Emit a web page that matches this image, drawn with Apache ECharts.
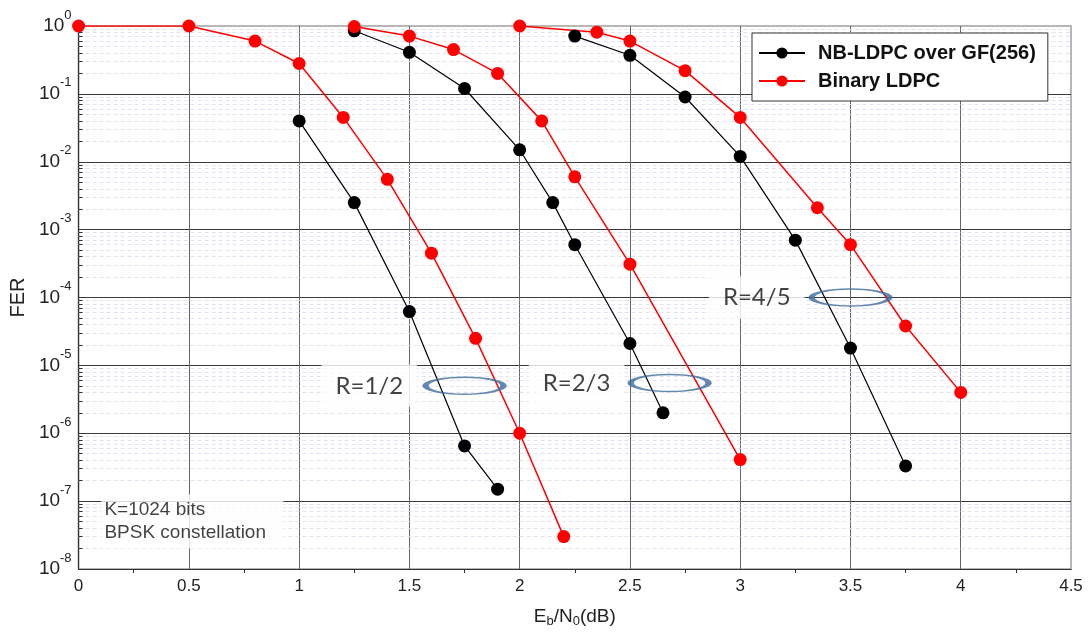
<!DOCTYPE html>
<html>
<head>
<meta charset="utf-8">
<script src="https://cdn.jsdelivr.net/npm/echarts@6/dist/echarts.min.js"></script>
<style>html,body{margin:0;padding:0;background:#fff;}#c{width:1089px;height:633px;}</style>
</head>
<body>
<div id="c"></div>
<script>
// ---- data (Eb/N0 in dB, FER) ----
const xNB12 = [1.0, 1.25, 1.5, 1.75, 1.9];
const yNB12 = [0.04, 2.5e-3, 6.2e-5, 6.5e-7, 1.5e-7];
const xBin12 = [0, 0.5, 0.8, 1.0, 1.2, 1.4, 1.6, 1.8, 2.0, 2.2];
const yBin12 = [1, 1, 0.6, 0.28, 0.045, 5.5e-3, 4.5e-4, 2.5e-5, 1e-6, 3e-8];
const xNB23 = [1.25, 1.5, 1.75, 2.0, 2.15, 2.25, 2.5, 2.65];
const yNB23 = [0.85, 0.41, 0.12, 0.015, 2.5e-3, 6e-4, 2.1e-5, 2e-6];
const xBin23 = [1.25, 1.5, 1.7, 1.9, 2.1, 2.25, 2.5, 3.0];
const yBin23 = [0.98, 0.71, 0.45, 0.2, 0.04, 6e-3, 3.1e-4, 4.1e-7];
const xNB45 = [2.25, 2.5, 2.75, 3.0, 3.25, 3.5, 3.75];
const yNB45 = [0.71, 0.37, 0.09, 0.012, 7e-4, 1.8e-5, 3.3e-7];
const xBin45 = [2.0, 2.35, 2.5, 2.75, 3.0, 3.35, 3.5, 3.75, 4.0];
const yBin45 = [1, 0.81, 0.6, 0.22, 0.045, 2.1e-3, 6e-4, 3.8e-5, 4e-6];

const seriesNames = ['NB-LDPC over GF(256)', 'Binary LDPC'];
const xTicks = [0, 0.5, 1, 1.5, 2, 2.5, 3, 3.5, 4, 4.5];
const yExponents = [0, -1, -2, -3, -4, -5, -6, -7, -8];

// annotation labels: [x, FER, text]
const rateLabels = [[1.318, 5.0e-6, 'R=1/2'], [2.258, 5.5e-6, 'R=2/3'], [3.075, 1.0e-4, 'R=4/5']];
const rateEllipses = [[1.75, 5.0e-6], [2.68, 5.5e-6], [3.5, 1.0e-4]];
const noteLabel = [[0.516, 5.0e-8]];

// minor (2..9 x decade) grid values
const minorVals = [];
for (let e = -8; e < 0; e++) for (let m = 2; m <= 9; m++) minorVals.push(m * Math.pow(10, e));

function pts(xs, ys) { return xs.map((x, i) => [x, ys[i]]); }

const FONT = '"Liberation Sans", Arial, sans-serif';
const BLACK = '#000000', RED = '#ff0000';

function curve(name, color, xs, ys, lw) {
  return {
    name: name, type: 'line', data: pts(xs, ys), symbol: 'circle', symbolSize: 13,
    lineStyle: { color: color, width: lw, type: 'solid' }, itemStyle: { color: color },
    z: 5, animation: false
  };
}

const ellipsePath = 'path://M0,10 A20,10 0 1,1 40,10 A20,10 0 1,1 0,10 Z';

const chart = echarts.init(document.getElementById('c'), null, { renderer: 'canvas' });
chart.setOption({
  animation: false,
  backgroundColor: '#ffffff',
  textStyle: { fontFamily: FONT },
  grid: { left: 76, right: 18, top: 26, bottom: 60, show: true, borderColor: '#a0a0a0', borderWidth: 1.5, backgroundColor: 'transparent' },
  legend: {
    data: seriesNames, orient: 'vertical', left: 752, top: 33, z: 20,
    backgroundColor: '#ffffff', borderColor: '#333', borderWidth: 1,
    padding: [10, 12, 10, 6], itemGap: 8, itemWidth: 46, itemHeight: 14,
    textStyle: { fontFamily: FONT, fontSize: 20, fontWeight: 'bold', color: '#111', lineHeight: 20, padding: [0, 0, 0, 8] }
  },
  xAxis: {
    type: 'value', min: 0, max: 4.5, interval: 0.5,
    name: '{n|E}{s|b}{n|/N}{s|0}{n|(dB)}', nameLocation: 'middle', nameGap: 36,
    nameTextStyle: { rich: {
      n: { fontSize: 19, color: '#222', fontFamily: FONT },
      s: { fontSize: 13, color: '#222', fontFamily: FONT, padding: [10, 0, 0, 0] }
    } },
    axisLine: { show: true, lineStyle: { color: '#333', width: 1.2 } },
    axisTick: { show: false },
    minorTick: { show: true, splitNumber: 2, length: 4, lineStyle: { color: '#333' } },
    axisLabel: { fontSize: 17, color: '#222', margin: 9, fontFamily: FONT,
      formatter: v => (xTicks.indexOf(v) >= 0 ? String(v) : '') },
    splitLine: { show: true, showMinLine: false, showMaxLine: false, lineStyle: { color: '#666', width: 1 } }
  },
  yAxis: {
    type: 'log', logBase: 10, min: 1e-8, max: 1,
    name: 'FER', nameLocation: 'middle', nameGap: 46,
    nameTextStyle: { fontSize: 20, color: '#222', fontFamily: FONT },
    axisLine: { show: true, lineStyle: { color: '#333', width: 1.2 } },
    axisTick: { show: false },
    axisLabel: {
      margin: 7, fontFamily: FONT,
      formatter: function (v) {
        const e = Math.round(Math.log10(v));
        if (yExponents.indexOf(e) < 0) return '';
        return '{b|10}{s|' + e + '}';
      },
      rich: {
        b: { fontSize: 19, color: '#222', fontFamily: FONT, lineHeight: 19 },
        s: { fontSize: 13, color: '#222', fontFamily: FONT, lineHeight: 13, padding: [0, 0, 22, 0] }
      }
    },
    splitLine: { show: true, showMinLine: false, showMaxLine: false, lineStyle: { color: '#3a3a3a', width: 1 } }
  },
  series: [
    {
      name: 'minorGrid', type: 'lines', coordinateSystem: 'cartesian2d', silent: true, z: 1,
      polyline: false, animation: false,
      lineStyle: { color: '#e2e2f3', type: [4, 3], width: 1, opacity: 1 },
      data: minorVals.map(v => ({ coords: [[0, v], [4.5, v]] }))
    },
    {
      name: 'minorTicks', type: 'lines', coordinateSystem: 'cartesian2d', silent: true, z: 2,
      polyline: false, animation: false,
      lineStyle: { color: '#333', width: 1, opacity: 1 },
      data: minorVals.map(v => ({ coords: [[0, v], [0.018, v]] }))
    },
    {
      name: 'notes', type: 'scatter', symbolSize: 0, silent: true, z: 3,
      data: rateLabels.map(r => ({ value: [r[0], r[1]], name: r[2] })).concat(
            noteLabel.map(r => ({ value: [r[0], r[1]], name: 'note', label: {
              padding: [4, 3, 4, 3], formatter: '{l|K=1024 bits}\n{l|BPSK constellation}'
            } }))),
      label: {
        show: true, position: 'inside', formatter: '{b}', color: '#111',
        fontFamily: 'Lato, "Open Sans", sans-serif', fontSize: 24,
        backgroundColor: '#ffffff', padding: [9, 14, 9, 14],
        rich: { l: { fontFamily: FONT, fontSize: 19, lineHeight: 23, color: '#111', width: 176, align: 'left' } }
      }
    },
    curve(seriesNames[0], BLACK, xNB12, yNB12, 1.2),
    curve(seriesNames[1], RED, xBin12, yBin12, 1.5),
    curve(seriesNames[0], BLACK, xNB23, yNB23, 1.2),
    curve(seriesNames[1], RED, xBin23, yBin23, 1.5),
    curve(seriesNames[0], BLACK, xNB45, yNB45, 1.2),
    curve(seriesNames[1], RED, xBin45, yBin45, 1.5),
    {
      name: 'ellipses', type: 'scatter', silent: true, z: 6,
      symbol: ellipsePath, symbolSize: [78, 17],
      itemStyle: { color: 'rgba(0,0,0,0)', borderColor: '#3d6c9c', borderWidth: 3 },
      data: rateEllipses
    }
  ]
});
</script>
</body>
</html>
